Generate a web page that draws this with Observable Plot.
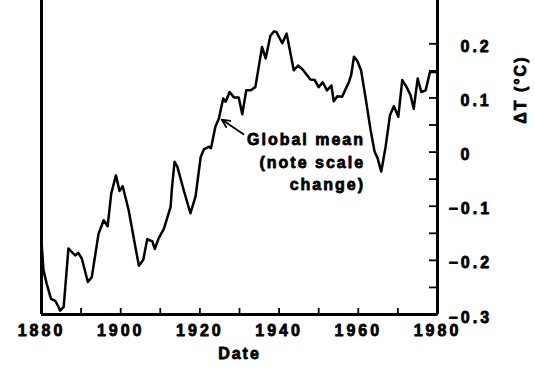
<!DOCTYPE html>
<html>
<head>
<meta charset="utf-8">
<script src="https://cdn.jsdelivr.net/npm/d3@7"></script>
<script src="https://cdn.jsdelivr.net/npm/@observablehq/plot@0.6"></script>
<style>
  html, body { margin: 0; padding: 0; background: #fff; }
</style>
</head>
<body>
<div id="chart"></div>
<script>
// Global mean temperature anomaly (ΔT, °C)
const years = [
  1880.0, 1880.5, 1881.3, 1882.4, 1883.5, 1884.3, 1884.7, 1885.6, 1886.8, 1888.5,
  1889.3, 1890.2, 1891.7, 1892.7, 1894.4, 1895.7, 1896.7, 1897.6, 1898.8, 1899.7,
  1900.5, 1902.0, 1903.7, 1904.6, 1905.7, 1906.7, 1908.0, 1908.6, 1909.6, 1910.9,
  1912.6, 1912.9, 1913.6, 1914.3, 1915.9, 1917.6, 1918.9, 1920.2, 1921.0, 1922.3,
  1922.8, 1923.9, 1924.8, 1925.4, 1925.9, 1926.5, 1927.5, 1928.6, 1929.8, 1930.7,
  1931.7, 1932.8, 1934.0, 1935.7, 1936.6, 1937.8, 1938.7, 1939.3, 1940.8, 1941.9,
  1943.7, 1944.8, 1946.0, 1947.9, 1949.0, 1950.0, 1951.0, 1952.1, 1953.2, 1953.8,
  1954.7, 1955.9, 1957.6, 1958.2, 1958.9, 1959.7, 1960.7, 1961.8, 1963.1, 1964.1,
  1964.9, 1965.8, 1966.9, 1968.0, 1969.0, 1970.1, 1971.1, 1972.2, 1973.2, 1974.0,
  1975.0, 1975.9, 1977.0, 1978.1, 1980.0
];
const deltaT = [
  -0.165, -0.218, -0.243, -0.271, -0.275, -0.286, -0.293, -0.286, -0.178, -0.191,
  -0.186, -0.197, -0.240, -0.231, -0.151, -0.126, -0.137, -0.077, -0.043, -0.072,
  -0.063, -0.107, -0.175, -0.210, -0.199, -0.161, -0.165, -0.179, -0.159, -0.142,
  -0.101, -0.070, -0.018, -0.027, -0.070, -0.113, -0.082, -0.009, 0.005, 0.010,
  0.007, 0.047, 0.062, 0.083, 0.099, 0.093, 0.111, 0.101, 0.101, 0.070,
  0.114, 0.114, 0.120, 0.194, 0.173, 0.215, 0.223, 0.222, 0.201, 0.219,
  0.151, 0.160, 0.152, 0.134, 0.133, 0.120, 0.129, 0.114, 0.123, 0.094,
  0.103, 0.102, 0.129, 0.142, 0.176, 0.169, 0.151, 0.102, 0.041, 0.001,
  -0.012, -0.036, 0.010, 0.068, 0.085, 0.065, 0.133, 0.120, 0.105, 0.080,
  0.136, 0.111, 0.114, 0.148, 0.148
];

// Axis ticks and labels
const xMinorTicks = [1880, 1890, 1900, 1910, 1920, 1930, 1940, 1950, 1960, 1970, 1980];
const xLabelTicks = [1880, 1900, 1920, 1940, 1960, 1980];
const yMinorTicks = [-0.3, -0.25, -0.2, -0.15, -0.1, -0.05, 0, 0.05, 0.1, 0.15, 0.2];
const yPosLabels = [0, 0.1, 0.2];
const yNegLabels = [-0.1, -0.2, -0.3];

// Texts
const xTitle = "Date";
const yTitle = "ΔT (°C)";
const annotation = "Global mean\n(note scale\nchange)";
const annotationAt = {x: 1961.7, y: -0.0155};
const arrowFrom = {x: 1931.0, y: 0.033};
const arrowTo = {x: 1925.5, y: 0.060};

const bold = {fontWeight: "bold", fill: "#000"};

const chart = Plot.plot({
  width: 535,
  height: 373,
  marginLeft: 41,
  marginRight: 98,
  marginTop: 0,
  marginBottom: 59,
  x: {domain: [1880, 1980], label: null},
  y: {domain: [-0.3, 0.28], label: null},
  style: {
    fontFamily: "'Liberation Sans', Arial, sans-serif",
    fontSize: "16px",
    letterSpacing: "3px",
    background: "#fff",
    color: "#000"
  },
  marks: [
    Plot.axisX({anchor: "bottom", ticks: xMinorTicks, tickSize: -6, tickFormat: () => "", strokeWidth: 1.8, label: null}),
    Plot.axisX({anchor: "bottom", ticks: xLabelTicks, tickSize: 0, tickPadding: 10, tickFormat: d => String(d), label: null, ...bold}),
    Plot.axisY({anchor: "right", ticks: yMinorTicks, tickSize: -9, tickFormat: () => "", strokeWidth: 1.8, label: null}),
    Plot.axisY({anchor: "right", ticks: yPosLabels, tickSize: 0, tickPadding: 23, dy: 3,
      tickFormat: d => d === 0 ? "0" : d.toFixed(1), label: null, ...bold}),
    Plot.axisY({anchor: "right", ticks: yNegLabels, tickSize: 0, tickPadding: 11, dy: 3,
      tickFormat: d => "\u2212" + Math.abs(d).toFixed(1), label: null, ...bold}),
    Plot.ruleX([1880, 1980], {strokeWidth: 3}),
    Plot.ruleY([-0.3], {strokeWidth: 3}),
    Plot.line(years, {x: years, y: deltaT, stroke: "#000", strokeWidth: 2.5, strokeLinejoin: "round"}),
    Plot.arrow([0], {x1: arrowFrom.x, y1: arrowFrom.y, x2: arrowTo.x, y2: arrowTo.y,
      stroke: "#000", strokeWidth: 1.8, headLength: 9, headAngle: 50}),
    Plot.text([annotation], {x: annotationAt.x, y: annotationAt.y, textAnchor: "end",
      lineHeight: 1.42, ...bold}),
    Plot.text([xTitle], {frameAnchor: "bottom", dy: 44, ...bold}),
    Plot.text([yTitle], {frameAnchor: "top-right", dx: 77, dy: 55, rotate: -90, ...bold})
  ]
});

d3.select(chart).selectAll("text")
  .style("font-weight", "bold")
  .attr("stroke", "#000")
  .attr("stroke-width", 0.8)
  .attr("stroke-linejoin", "round");
d3.select(chart).selectAll('g[aria-label="text"]').style("letter-spacing", "2px");
document.getElementById("chart").appendChild(chart);
</script>
</body>
</html>
